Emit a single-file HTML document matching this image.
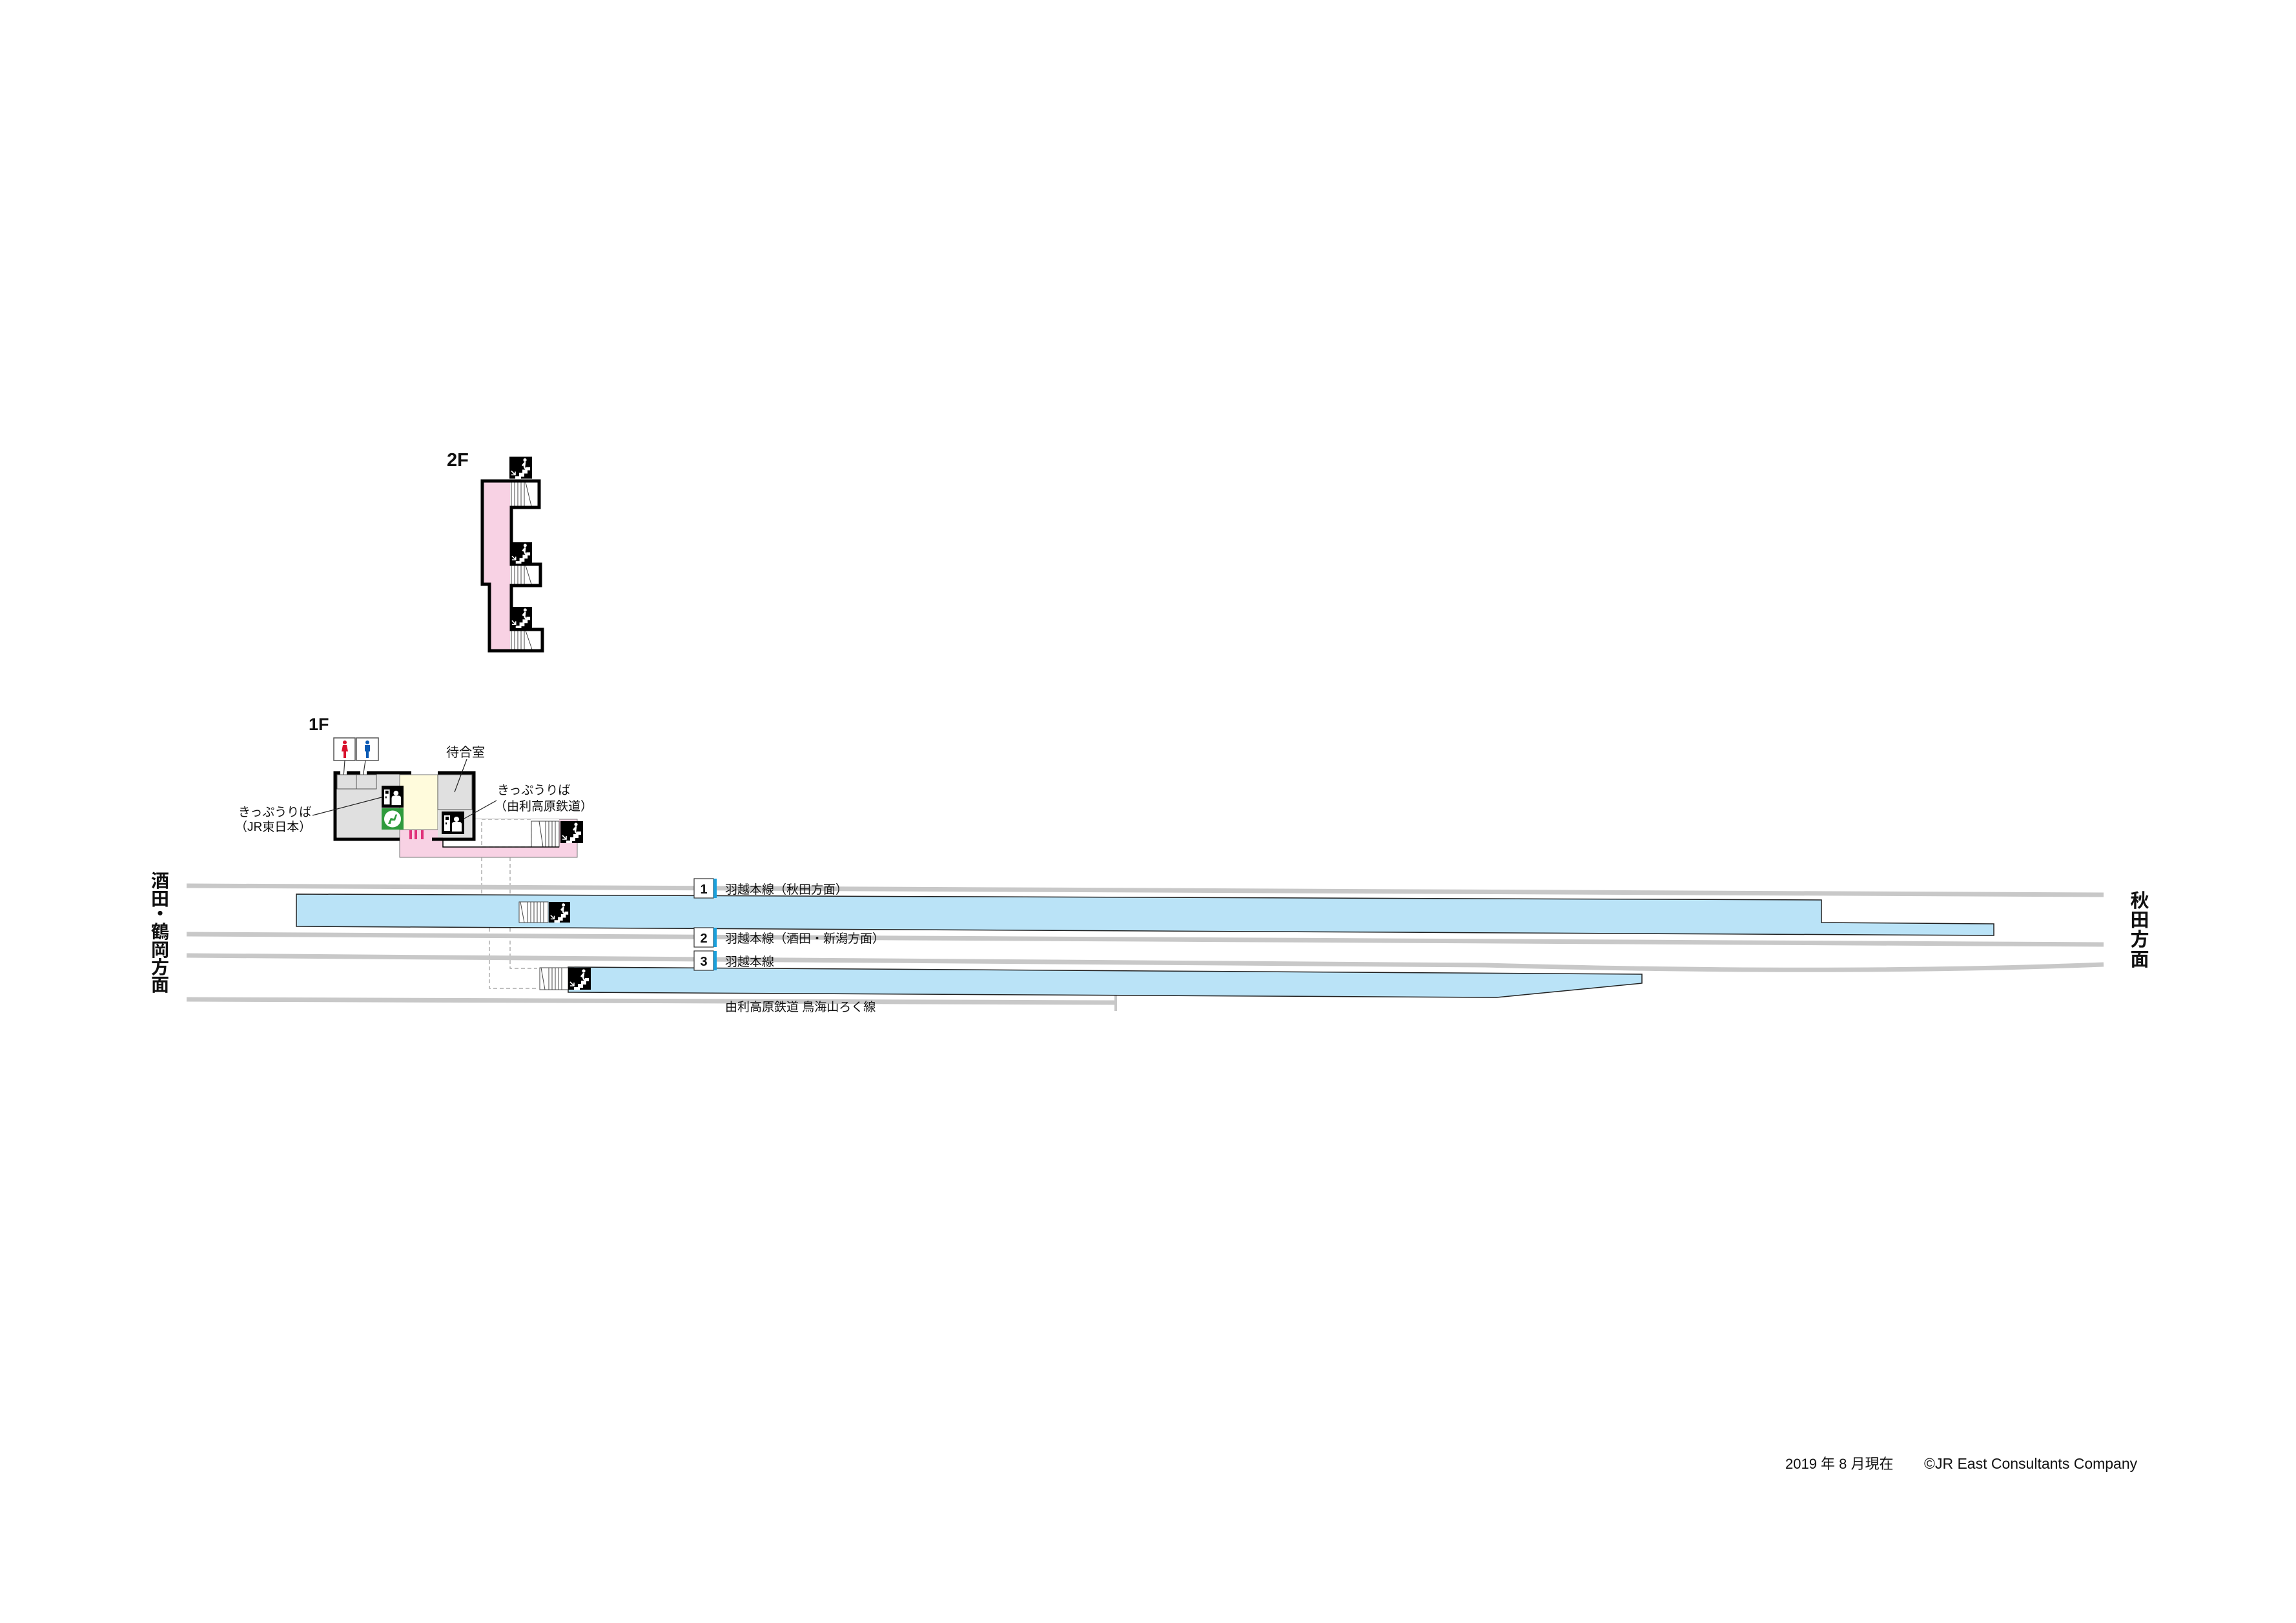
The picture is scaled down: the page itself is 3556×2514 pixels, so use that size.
<!DOCTYPE html>
<html><head><meta charset="utf-8"><style>
html,body{margin:0;padding:0;background:#fff;}
svg{display:block;}
text{font-family:"Liberation Sans","Noto Sans CJK JP",sans-serif;fill:#111;}
</style></head><body>
<svg width="3556" height="2514" viewBox="0 0 3556 2514" xmlns="http://www.w3.org/2000/svg">
<defs>
<symbol id="st" viewBox="0 0 35 34">
<rect width="35" height="34" fill="#000"/>
<path d="M9 30 h6 v-5 h5 v-5 h6 v-4 h6 v5 h-4 v5 h-5 v5 h-5 v4 h-9z" fill="#fff"/>
<circle cx="24" cy="5" r="2.6" fill="#fff"/>
<path d="M24 8 l-1 8 M23 10 l-3 4 M23 16 l3 4" stroke="#fff" stroke-width="2.6" fill="none"/>
<path d="M3 22 l6 6 M3 28 h6 v-5" stroke="#fff" stroke-width="1.6" fill="none"/>
</symbol>
<symbol id="tk" viewBox="0 0 35 35">
<rect width="35" height="35" fill="#000"/>
<rect x="4" y="6" width="9" height="24" fill="#fff"/>
<rect x="6" y="8" width="5" height="5" fill="#000"/>
<rect x="6" y="17" width="2" height="3" fill="#000"/>
<circle cx="23" cy="12" r="4" fill="#fff"/>
<path d="M16 31 v-11 q0-4 4-4 h7 q4 0 4 4 v11z" fill="#fff"/>
</symbol>
</defs>

<!-- 2F -->
<text x="692" y="722" font-size="29" font-weight="bold">2F</text>
<rect x="750" y="747" width="40" height="160" fill="#f8d2e4"/>
<rect x="760" y="900" width="30" height="106" fill="#f8d2e4"/>
<g fill="#fff" stroke="#444" stroke-width="1">
<rect x="792" y="747" width="42" height="37"/>
<rect x="792" y="876" width="43" height="29"/>
<rect x="792" y="977" width="46" height="29"/>
</g>
<g stroke="#444" stroke-width="1">
<path d="M797 747v37M802 747v37M807 747v37M812 747v37M814 747l9 37"/>
<path d="M797 876v29M802 876v29M807 876v29M812 876v29M814 876l9 29"/>
<path d="M797 977v29M802 977v29M807 977v29M812 977v29M814 977l10 29"/>
</g>
<path d="M747 745 H835 V786 H792 V874 H837 V907 H792 V975 H840 V1008 H758 V905 H747 Z" fill="none" stroke="#000" stroke-width="5"/>
<use href="#st" x="789" y="707" width="35" height="35"/>
<use href="#st" x="789" y="840" width="36" height="33"/>
<use href="#st" x="789" y="940" width="36" height="33"/>

<!-- 1F -->
<text x="478" y="1131" font-size="27" font-weight="bold">1F</text>
<rect x="517" y="1143" width="33" height="35" fill="#fff" stroke="#555" stroke-width="1.5"/>
<rect x="552" y="1143" width="34" height="35" fill="#fff" stroke="#555" stroke-width="1.5"/>
<g fill="#d8102c"><circle cx="534" cy="1150" r="3"/><path d="M531 1154 h6 l2 10 h-3 v10 h-4 v-10 h-3z"/></g>
<g fill="#0a5ab4"><circle cx="569" cy="1150" r="3"/><path d="M565 1154 h8 v10 h-2 v10 h-4 v-10 h-2z"/></g>
<path d="M534 1178 L532 1204 M566 1178 L562 1204" stroke="#333" stroke-width="1.2"/>
<rect x="619" y="1283" width="275" height="45" fill="#f8d2e4" stroke="#777" stroke-width="1"/>
<rect x="736" y="1269" width="158" height="20" fill="#f8d2e4" stroke="none"/>
<path d="M736 1269 H894 V1328" fill="none" stroke="#777" stroke-width="1"/>
<rect x="686" y="1269" width="180" height="43" fill="#fff"/>
<rect x="746" y="1269" width="77" height="43" fill="none" stroke="#999" stroke-width="1.2" stroke-dasharray="6,4"/>
<rect x="823" y="1272" width="43" height="40" fill="#fff" stroke="#444" stroke-width="1"/>
<path d="M835 1272 l6 40 M845 1272v40M850 1272v40M855 1272v40M860 1272v40" stroke="#444" stroke-width="1"/>
<use href="#st" x="868" y="1272" width="35" height="34"/>
<path d="M669 1299 H686 V1312 H866" fill="none" stroke="#000" stroke-width="1.5"/>
<rect x="522" y="1200" width="97" height="97" fill="#e0e0e0"/>
<rect x="522" y="1200" width="30" height="22" fill="#e0e0e0" stroke="#555" stroke-width="1"/>
<rect x="552" y="1200" width="31" height="22" fill="#e0e0e0" stroke="#555" stroke-width="1"/>
<rect x="619" y="1200" width="59" height="85" fill="#fffbdc" stroke="#777" stroke-width="1"/>
<rect x="678" y="1200" width="53" height="97" fill="#e0e0e0"/>
<rect x="678" y="1200" width="53" height="54" fill="#e0e0e0" stroke="#555" stroke-width="1"/>
<line x1="619" y1="1200" x2="619" y2="1300" stroke="#777" stroke-width="1"/>
<g stroke="#000" stroke-width="5" fill="none">
<path d="M527 1197 H519 V1300 H619"/>
<path d="M537 1197 H558"/>
<path d="M568 1197 H637"/>
<path d="M678 1197 H734 V1300 H669"/>
</g>
<use href="#tk" x="591" y="1217" width="34" height="34"/>
<rect x="591" y="1252" width="34" height="33" fill="#2e9a3c"/>
<circle cx="608" cy="1268.5" r="13" fill="#fff"/>
<path d="M601 1276 l4 -9 l5 1 l3 -7 l2 1 l-3 9 l-6 0 l-1 5z" fill="#2e9a3c"/>
<use href="#tk" x="684" y="1257" width="35" height="35"/>
<g fill="#e0307a"><rect x="634" y="1286" width="4" height="14"/><rect x="642" y="1286" width="4" height="14"/><rect x="652" y="1286" width="4" height="14"/></g>
<text x="691" y="1172" font-size="20">待合室</text>
<line x1="723" y1="1176" x2="704" y2="1227" stroke="#222" stroke-width="1.2"/>
<text x="770" y="1230" font-size="19">きっぷうりば</text>
<text x="766" y="1255" font-size="19">（由利高原鉄道）</text>
<line x1="769" y1="1240" x2="719" y2="1268" stroke="#222" stroke-width="1.2"/>
<text x="369" y="1264" font-size="19">きっぷうりば</text>
<text x="364" y="1287" font-size="19">（JR東日本）</text>
<line x1="484" y1="1263" x2="591" y2="1235" stroke="#222" stroke-width="1.2"/>
<g stroke="#999" stroke-width="1.2" stroke-dasharray="6,4" fill="none">
<path d="M746 1328 V1385"/>
<path d="M790 1328 V1385"/>
<path d="M758 1437 V1531 H832"/>
<path d="M790 1437 V1500 H832"/>
</g>

<g stroke="#c8c8c8" stroke-width="7" fill="none">
<path d="M289 1372 L3258 1386"/>
<path d="M289 1447 L3258 1463"/>
<path d="M289 1480 L2300 1495 Q2850 1510 3258 1494"/>
<path d="M289 1548 L1728 1553"/>
<path d="M1728 1540 V1566" stroke-width="4"/>
</g>
<path d="M459 1385 L2821 1394 V1429 L3088 1431 V1449 L459 1435 Z" fill="#bae3f7" stroke="#222" stroke-width="1.5"/>
<path d="M880 1498 L2543 1509 V1523 L2318 1545 L880 1537 Z" fill="#bae3f7" stroke="#222" stroke-width="1.5"/>
<rect x="804" y="1397" width="45" height="32" fill="#fff" stroke="#444" stroke-width="1"/>
<path d="M806 1397l6 32M817 1397v32M822 1397v32M827 1397v32M832 1397v32M837 1397v32M842 1397v32" stroke="#444" stroke-width="1"/>
<use href="#st" x="849" y="1397" width="35" height="32"/>
<rect x="836" y="1499" width="44" height="34" fill="#fff" stroke="#444" stroke-width="1"/>
<path d="M838 1499l6 34M850 1499v34M855 1499v34M860 1499v34M865 1499v34M870 1499v34" stroke="#444" stroke-width="1"/>
<use href="#st" x="880" y="1499" width="35" height="34"/>
<g stroke="#333" stroke-width="1.2">
<rect x="1075" y="1361" width="30" height="30" fill="#fff"/>
<rect x="1075" y="1437" width="30" height="30" fill="#fff"/>
<rect x="1075" y="1473" width="30" height="30" fill="#fff"/>
</g>
<g fill="#1aa0dc"><rect x="1105" y="1361" width="5" height="30"/><rect x="1105" y="1437" width="5" height="30"/><rect x="1105" y="1473" width="5" height="30"/></g>
<g font-size="20" font-weight="bold" text-anchor="middle">
<text x="1090" y="1384">1</text><text x="1090" y="1460">2</text><text x="1090" y="1496">3</text>
</g>
<g font-size="19">
<text x="1123" y="1384">羽越本線（秋田方面）</text>
<text x="1123" y="1460">羽越本線（酒田・新潟方面）</text>
<text x="1123" y="1496">羽越本線</text>
<text x="1123" y="1566">由利高原鉄道 鳥海山ろく線</text>
</g>
<g font-size="28" text-anchor="middle" font-weight="bold">
<text x="248" y="1374">酒</text><text x="248" y="1402">田</text><text x="248" y="1425">・</text><text x="248" y="1453">鶴</text><text x="248" y="1481">岡</text><text x="248" y="1508">方</text><text x="248" y="1535">面</text>
</g>
<g font-size="29" text-anchor="middle" font-weight="bold">
<text x="3314" y="1405">秋</text><text x="3314" y="1435">田</text><text x="3314" y="1465">方</text><text x="3314" y="1496">面</text>
</g>
<text x="2765" y="2275" font-size="22">2019 年 8 月現在</text>
<text x="2980" y="2275" font-size="23">©JR East Consultants Company</text>
</svg>
</body></html>
